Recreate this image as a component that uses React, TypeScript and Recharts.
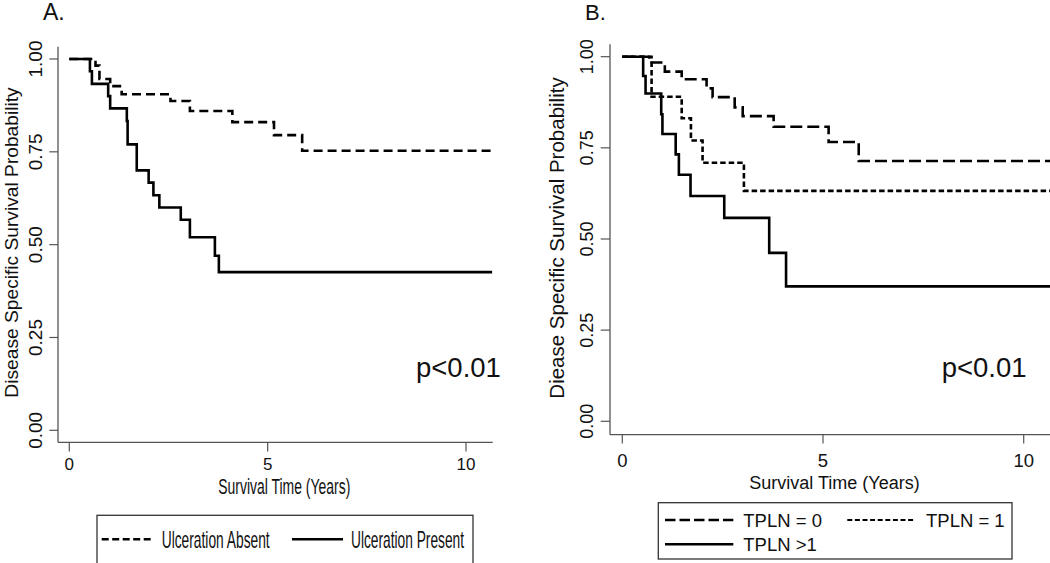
import React from 'react';
import { LineChart, Line, XAxis, YAxis } from 'recharts';

// Panel A: ulceration absent / present (years, survival probability)
const absentTime = [0, 0.66, 0.76, 1.03, 1.32, 2.55, 3.04, 4.11, 5.16, 5.87, 10.66];
const absentSurv = [1, 0.982, 0.946, 0.927, 0.905, 0.887, 0.86, 0.83, 0.795, 0.753, 0.753];
const presentTime = [0, 0.52, 0.57, 0.98, 1.03, 1.45, 1.47, 1.7, 2.0, 2.12, 2.27, 2.81, 3.04, 3.67, 3.77, 10.66];
const presentSurv = [1, 0.967, 0.933, 0.9, 0.867, 0.833, 0.77, 0.7, 0.667, 0.633, 0.6, 0.567, 0.52, 0.47, 0.426, 0.426];

// Panel B: TPLN groups
const tpln0Time = [0, 0.67, 1.06, 1.48, 2.1, 2.25, 2.8, 3.0, 3.77, 5.14, 5.89, 10.66];
const tpln0Surv = [1, 0.984, 0.959, 0.938, 0.913, 0.889, 0.861, 0.837, 0.808, 0.766, 0.714, 0.714];
const tpln1Time = [0, 0.73, 1.48, 1.71, 2.0, 3.03, 10.66];
const tpln1Surv = [1, 0.89, 0.831, 0.77, 0.709, 0.632, 0.632];
const tpln2Time = [0, 0.52, 0.58, 0.97, 1.0, 1.33, 1.41, 1.7, 2.54, 3.66, 4.08, 10.66];
const tpln2Surv = [1, 0.947, 0.899, 0.842, 0.788, 0.732, 0.676, 0.618, 0.558, 0.462, 0.37, 0.37];

const yTicks = [0, 0.25, 0.5, 0.75, 1];
const xTicks = [0, 5, 10];
const pText = 'p<0.01';

const FONT = '"Liberation Sans", Arial, sans-serif';
const AXIS = '#555';
const INK = '#111';

const toSeries = (time: number[], surv: number[]) => time.map((t, i) => ({ t, s: surv[i] }));

const RotTick = ({ x, y, payload, gap, size }: any) => {
  const bx = x - gap;
  return (
    <text x={bx} y={y} transform={`rotate(-90 ${bx} ${y})`} textAnchor="middle"
      fontSize={size} fontFamily={FONT} fill={INK}>
      {Number(payload.value).toFixed(2)}
    </text>
  );
};

export default function App() {
  const lineCommon = {
    type: 'stepAfter' as const,
    dataKey: 's',
    stroke: '#000',
    strokeWidth: 2.6,
    dot: false,
    activeDot: false,
    isAnimationActive: false,
  };

  return (
    <div style={{ position: 'absolute', left: 0, top: 0, width: 1050, height: 563, overflow: 'hidden', background: '#fff' }}>
      {/* Panel A */}
      <div style={{ position: 'absolute', left: 0, top: 0 }}>
        <LineChart width={530} height={563} margin={{ top: 46.7, right: 37.3, left: 0, bottom: 0 }}>
          <XAxis type="number" dataKey="t" domain={[-0.285, 10.673]} ticks={xTicks} allowDataOverflow
            height={120.7} tickSize={9.3} tickMargin={6.5}
            axisLine={{ stroke: AXIS, strokeWidth: 1.3 }} tickLine={{ stroke: AXIS, strokeWidth: 1.2 }}
            tick={{ fontSize: 17, fill: INK, fontFamily: FONT }} />
          <YAxis type="number" domain={[-0.0323, 1.0331]} ticks={yTicks} allowDataOverflow
            width={58} tickSize={8.7} tickMargin={0}
            axisLine={{ stroke: AXIS, strokeWidth: 1.3 }} tickLine={{ stroke: AXIS, strokeWidth: 1.2 }}
            tick={(p: any) => <RotTick {...p} gap={7.6} size={19} />} />
          <Line {...lineCommon} data={toSeries(absentTime, absentSurv)} strokeDasharray="9 5" name="Ulceration Absent" />
          <Line {...lineCommon} data={toSeries(presentTime, presentSurv)} name="Ulceration Present" />
        </LineChart>
      </div>

      {/* Panel B */}
      <div style={{ position: 'absolute', left: 530, top: 0 }}>
        <LineChart width={520} height={563} margin={{ top: 44.3, right: 0, left: 0, bottom: 0 }}>
          <XAxis type="number" dataKey="t" domain={[-0.306, 10.655]} ticks={xTicks} allowDataOverflow
            height={128.3} tickSize={8.7} tickMargin={10}
            axisLine={{ stroke: AXIS, strokeWidth: 1.3 }} tickLine={{ stroke: AXIS, strokeWidth: 1.2 }}
            tick={{ fontSize: 18.5, fill: INK, fontFamily: FONT }} />
          <YAxis type="number" domain={[-0.0368, 1.034]} ticks={yTicks} allowDataOverflow
            width={80} tickSize={9.3} tickMargin={0}
            axisLine={{ stroke: AXIS, strokeWidth: 1.3 }} tickLine={{ stroke: AXIS, strokeWidth: 1.2 }}
            tick={(p: any) => <RotTick {...p} gap={7.4} size={18} />} />
          <Line {...lineCommon} data={toSeries(tpln0Time, tpln0Surv)} strokeDasharray="12 5" name="TPLN = 0" />
          <Line {...lineCommon} data={toSeries(tpln1Time, tpln1Surv)} strokeDasharray="5.5 3" name="TPLN = 1" />
          <Line {...lineCommon} data={toSeries(tpln2Time, tpln2Surv)} name="TPLN >1" />
        </LineChart>
      </div>

      {/* titles, annotations, legends */}
      <svg width={1050} height={563} style={{ position: 'absolute', left: 0, top: 0, pointerEvents: 'none' }}
        fontFamily={FONT} fill={INK}>
        <text x={43} y={19.5} fontSize={23}>A.</text>
        <text x={585} y={19.5} fontSize={22}>B.</text>

        <text x={18} y={242.5} fontSize={19.2} textAnchor="middle" transform="rotate(-90 18 242.5)">
          Disease Specific Survival Probability
        </text>
        <text x={564} y={238} fontSize={20.5} textAnchor="middle" transform="rotate(-90 564 238)">
          Diease Specific Survival Probability
        </text>

        <text x={218.3} y={494} fontSize={22} textLength={132} lengthAdjust="spacingAndGlyphs">
          Survival Time (Years)
        </text>
        <text x={834.5} y={489.3} fontSize={18} textAnchor="middle">Survival Time (Years)</text>

        <text x={416} y={377.3} fontSize={27.5}>{pText}</text>
        <text x={941.7} y={376.7} fontSize={27.5}>{pText}</text>

        {/* legend A */}
        <rect x={97} y={515.3} width={376} height={60} fill="none" stroke="#333" strokeWidth={1.3} />
        <line x1={101.7} x2={154} y1={539.3} y2={539.3} stroke="#000" strokeWidth={2.6} strokeDasharray="7 3.5" />
        <text x={161.7} y={548.3} fontSize={24} textLength={108} lengthAdjust="spacingAndGlyphs">Ulceration Absent</text>
        <line x1={292} x2={343} y1={539.3} y2={539.3} stroke="#000" strokeWidth={2.6} />
        <text x={351} y={548.3} fontSize={24} textLength={113} lengthAdjust="spacingAndGlyphs">Ulceration Present</text>

        {/* legend B */}
        <rect x={658.3} y={502.7} width={353.7} height={56.3} fill="none" stroke="#333" strokeWidth={1.3} />
        <line x1={665} x2={733.3} y1={520} y2={520} stroke="#000" strokeWidth={2.4} strokeDasharray="10.5 4" />
        <text x={743.3} y={526.7} fontSize={18.5}>TPLN = 0</text>
        <line x1={847.3} x2={915} y1={520} y2={520} stroke="#000" strokeWidth={2.2} strokeDasharray="5 2.6" />
        <text x={926} y={526.7} fontSize={18.5}>TPLN = 1</text>
        <line x1={665} x2={733.3} y1={544.3} y2={544.3} stroke="#000" strokeWidth={2.6} />
        <text x={743.3} y={551} fontSize={18.5}>TPLN &gt;1</text>
      </svg>
    </div>
  );
}
